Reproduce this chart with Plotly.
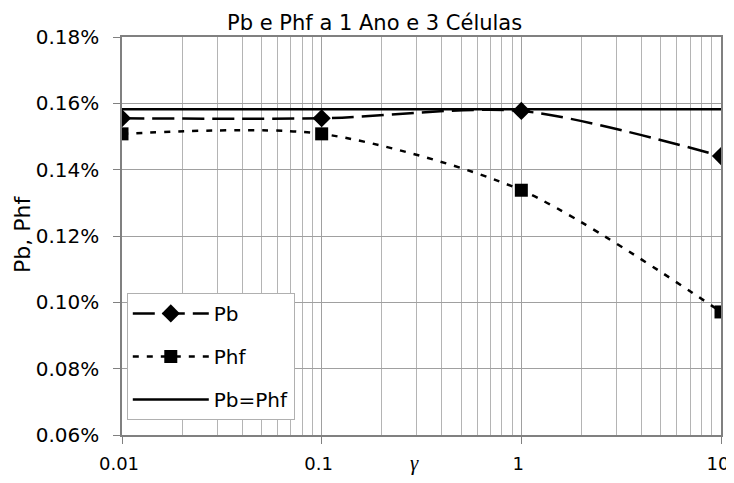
import plotly.graph_objects as go

gamma = [0.01, 0.1, 1, 10]
pb = [0.1555, 0.1555, 0.1577, 0.1441]
phf = [0.1508, 0.1508, 0.1338, 0.0971]
pb_eq_phf = [0.1582, 0.1582, 0.1582, 0.1582]
x_tick_vals = [0.01, 0.1, 1, 10]
x_tick_text = ["0.01", "0.1", "1", "10"]

FONT = "DejaVu Sans, Arial, sans-serif"

fig = go.Figure()
fig.add_trace(go.Scatter(x=gamma, y=pb, name="Pb", mode="lines+markers",
                         legendgroup="a",
                         line=dict(color="black", width=2.5, dash="22px,8px",
                                   shape="spline", smoothing=0.8),
                         marker=dict(symbol="diamond", size=14, color="black")))
fig.add_trace(go.Scatter(x=gamma, y=phf, name="Phf", mode="lines+markers",
                         legendgroup="b",
                         line=dict(color="black", width=2.5, dash="6px,8px",
                                   shape="spline", smoothing=0.8),
                         marker=dict(symbol="square", size=13, color="black")))
fig.add_trace(go.Scatter(x=gamma, y=pb_eq_phf, name="Pb=Phf", mode="lines",
                         legendgroup="c",
                         line=dict(color="black", width=2.5)))

# page body has an 8px margin, so the figure is drawn 8px right/down
fig.update_layout(
    width=726, height=467,
    margin=dict(l=114, r=13, t=29, b=40, autoexpand=False),
    paper_bgcolor="white", plot_bgcolor="white",
    font=dict(family=FONT, color="black", size=19),
    title=dict(text="Pb e Phf a 1 Ano e 3 Células", x=0.505, xanchor="center",
               y=0.985, yanchor="top", font=dict(size=21)),
    showlegend=True,
    legend=dict(x=0.008, y=0.357, xanchor="left", yanchor="top",
                bgcolor="white", bordercolor="#b0b0b0", borderwidth=1,
                traceorder="grouped", font=dict(size=20),
                tracegroupgap=14, itemwidth=76),
    annotations=[
        dict(text="γ", xref="paper", yref="paper", x=0.489, y=-0.07,
             xanchor="center", yanchor="middle", showarrow=False,
             font=dict(family="Liberation Serif, serif", size=21, style="italic")),
        dict(text="Pb, Phf", xref="paper", yref="paper", x=-0.167, y=0.505,
             xanchor="center", yanchor="middle", showarrow=False, textangle=-90,
             font=dict(size=22)),
    ],
)
fig.update_xaxes(type="log", range=[-2, 1], automargin=False,
                 tickvals=x_tick_vals, ticktext=x_tick_text,
                 showgrid=True, gridcolor="#a0a0a0", gridwidth=1,
                 minor=dict(dtick="D1", showgrid=True, gridcolor="#b4b4b4", gridwidth=1),
                 showline=True, linecolor="#808080", linewidth=1.5, mirror=True,
                 ticks="outside", ticklen=7, tickcolor="#808080",
                 ticklabelstandoff=5, ticklabelshift=-3, ticklabeloverflow="allow",
                 tickfont=dict(size=18), zeroline=False)
fig.update_yaxes(range=[0.06, 0.18], dtick=0.02, tick0=0.06, automargin=False,
                 tickformat=".2f", ticksuffix="%",
                 showgrid=True, gridcolor="#a0a0a0", gridwidth=1,
                 showline=True, linecolor="#808080", linewidth=1.5, mirror=True,
                 ticks="outside", ticklen=7, tickcolor="#808080",
                 ticklabelstandoff=10,
                 tickfont=dict(size=20), zeroline=False)

fig.write_html("out.html")
